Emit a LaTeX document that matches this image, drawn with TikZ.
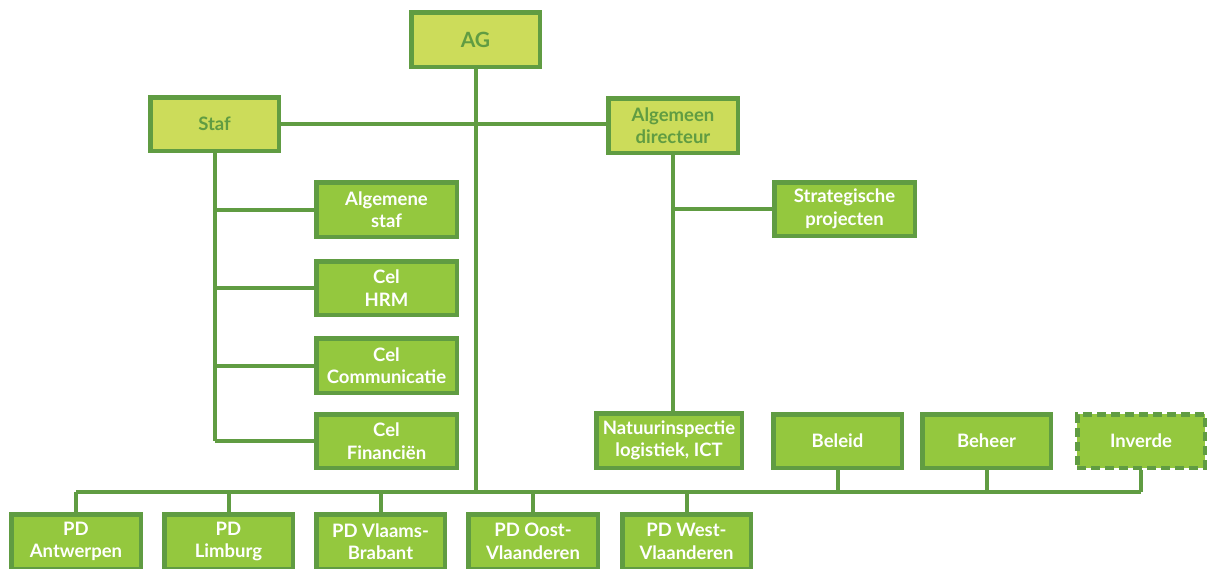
\documentclass[tikz,border=0pt]{standalone}
\usepackage{fontspec}
\setmainfont{Lato}
\definecolor{lineG}{HTML}{609C42}
\definecolor{lightG}{HTML}{CCDC5A}
\definecolor{midG}{HTML}{94C83E}
\tikzset{
  box/.style={draw=lineG, line width=4.5pt, rectangle, inner sep=0pt, align=center,
    font=\fontsize{18.5}{22.5}\selectfont\bfseries},
  lbox/.style={box, fill=lightG, text=lineG},
  mbox/.style={box, fill=midG, text=white},
  conn/.style={draw=lineG, line width=4pt},
}
\begin{document}
\begin{tikzpicture}[x=1pt,y=-1pt]
\useasboundingbox (0,0) rectangle (1207,568);
\clip (0,0) rectangle (1207,568);
% nodes
\node[lbox, minimum width=128.5pt, minimum height=54.5pt, font=\fontsize{21}{25}\selectfont\bfseries] (AG) at (475.5,39.5) {AG};
\node[lbox, minimum width=128.5pt, minimum height=53.5pt] (Staf) at (214.5,124) {Staf};
\node[lbox, minimum width=129.5pt, minimum height=54.5pt] (AD) at (673,125.5) {Algemeen\\directeur};
\node[mbox, minimum width=140.5pt, minimum height=54.5pt] (AS) at (386.5,209.5) {Algemene\\staf};
\node[mbox, minimum width=140.5pt, minimum height=53.5pt] (HRM) at (386.5,288) {Cel\\HRM};
\node[mbox, minimum width=140.5pt, minimum height=54.5pt] (COM) at (386.5,365.5) {Cel\\Communicatie};
\node[mbox, minimum width=140.5pt, minimum height=53.5pt] (FIN) at (386.5,441) {Cel\\Financiën};
\node[mbox, minimum width=140.5pt, minimum height=53.5pt] (SP) at (844.5,209) {Strategische\\projecten};
\node[mbox, minimum width=145.5pt, minimum height=54.5pt] (NAT) at (669,440.5) {Natuurinspectie\\logistiek, ICT};
\node[mbox, minimum width=128.5pt, minimum height=53.5pt] (BEL) at (837.5,441) {Beleid};
\node[mbox, minimum width=128.5pt, minimum height=53.5pt] (BEH) at (986.5,441) {Beheer};
\node[mbox, minimum width=127.5pt, minimum height=53.5pt, dash pattern=on 9pt off 5pt] (INV) at (1141,441) {Inverde};
\node[mbox, minimum width=129.5pt, minimum height=54.5pt, anchor=north] (PDA) at (76,512) {PD\\Antwerpen};
\node[mbox, minimum width=128.5pt, minimum height=54.5pt, anchor=north] (PDL) at (228.5,512) {PD\\Limburg};
\node[mbox, minimum width=128.5pt, minimum height=54.5pt, anchor=north] (PDV) at (380.5,512) {PD Vlaams-\\Brabant};
\node[mbox, minimum width=129.5pt, minimum height=54.5pt, anchor=north] (PDO) at (533,512) {PD Oost-\\Vlaanderen};
\node[mbox, minimum width=128.5pt, minimum height=54.5pt, anchor=north] (PDW) at (686.5,512) {PD West-\\Vlaanderen};
% bus coordinate
\coordinate (busY) at (0,492);
% connectors
\draw[conn] (AG.south) -- (AG.south |- busY);
\draw[conn] (PDA.north |- busY) -- (INV.south |- busY);
\foreach \n in {PDA,PDL,PDV,PDO,PDW} \draw[conn] (\n.north) -- (\n.north |- busY);
\foreach \n in {BEL,BEH,INV} \draw[conn] (\n.south) -- (\n.south |- busY);
\draw[conn] (Staf.east) -- (Staf.east -| AD.west);
\draw[conn] (Staf.south) -- (Staf.south |- FIN.west);
\foreach \n in {AS,HRM,COM,FIN} \draw[conn] (Staf.south |- \n.west) -- (\n.west);
\draw[conn] (AD.south) -- (AD.south |- NAT.north);
\draw[conn] (AD.south |- SP.west) -- (SP.west);
\end{tikzpicture}
\end{document}
